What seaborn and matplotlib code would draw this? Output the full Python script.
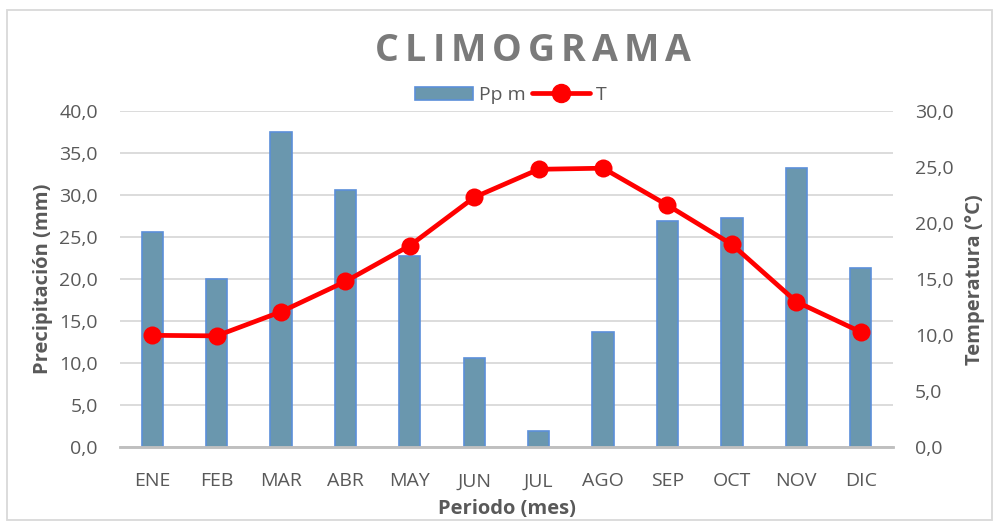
import seaborn as sns
import matplotlib.pyplot as plt
from matplotlib.patches import Rectangle
from matplotlib.lines import Line2D
from matplotlib.ticker import FuncFormatter, MultipleLocator
import pandas as pd

meses = ['ENE', 'FEB', 'MAR', 'ABR', 'MAY', 'JUN', 'JUL', 'AGO', 'SEP', 'OCT', 'NOV', 'DIC']
precip = [25.6, 20.0, 37.5, 30.6, 22.8, 10.6, 2.0, 13.7, 26.9, 27.3, 33.2, 21.3]
temp = [10.0, 9.95, 12.1, 14.8, 18.0, 22.3, 24.8, 24.9, 21.6, 18.1, 13.0, 10.3]

df = pd.DataFrame({'mes': meses, 'pp': precip, 't': temp})

sns.set_style('white')
plt.rcParams['font.family'] = ['Open Sans', 'DejaVu Sans']

gris = '#595959'
bar_fill = '#6A97AE'
bar_edge = '#5B8FD9'

fig = plt.figure(figsize=(9.96, 5.23), dpi=100)
ax = fig.add_axes([0.1205, 0.1444, 0.776, 0.6434])

sns.barplot(data=df, x='mes', y='pp', color=bar_fill, width=0.33,
            edgecolor=bar_edge, linewidth=1.2, saturation=1, ax=ax, zorder=2)

ax2 = ax.twinx()
sns.lineplot(x=range(len(meses)), y=df['t'], color='#FF0000', linewidth=3.4,
             marker='o', markersize=13, markeredgewidth=0, ax=ax2, zorder=3)

ax.set_xlim(-0.5, 11.5)
ax.set_ylim(0, 40)
ax2.set_ylim(0, 30)
ax.yaxis.set_major_locator(MultipleLocator(5))
ax2.yaxis.set_major_locator(MultipleLocator(5))
fmt = FuncFormatter(lambda v, p: f'{v:.1f}'.replace('.', ','))
ax.yaxis.set_major_formatter(fmt)
ax2.yaxis.set_major_formatter(fmt)

ax.grid(axis='y', color='#D9D9D9', linewidth=1.3, zorder=0)
ax.set_axisbelow(True)
for a in (ax, ax2):
    for s in ['top', 'left', 'right']:
        a.spines[s].set_visible(False)
    a.spines['bottom'].set_color('#BFBFBF')
    a.spines['bottom'].set_linewidth(1.8)
    a.tick_params(length=0, labelsize=14, labelcolor=gris)
ax.tick_params(axis='y', pad=16)
ax2.tick_params(axis='y', pad=16)
ax.tick_params(axis='x', pad=18)

ax.set_xlabel('Periodo (mes)', fontsize=14.5, fontweight='bold', color=gris, labelpad=6)
ax.set_ylabel('Precipitación (mm)', fontsize=14.5, fontweight='bold', color=gris, labelpad=4)
ax2.set_ylabel('Temperatura (°C)', fontsize=14.5, fontweight='bold', color=gris, labelpad=8)

# titulo con espaciado entre letras
titulo = 'CLIMOGRAMA'
renderer = fig.canvas.get_renderer()
letras = []
ancho = 0
for c in titulo:
    t = fig.text(0, 0.902, c, ha='left', va='center', fontsize=27,
                 fontweight='bold', color='#7A7A7A')
    w = t.get_window_extent(renderer).width
    letras.append((t, w))
    ancho += w
esp = 6
ancho += esp * (len(titulo) - 1)
x = 533 - ancho / 2
for t, w in letras:
    t.set_x(x / 996)
    x += w + esp

handles = [Rectangle((0, 0), 1, 1, facecolor=bar_fill, edgecolor=bar_edge, linewidth=1.2),
           Line2D([0], [0], color='#FF0000', linewidth=3.4, marker='o', markersize=13)]
leg = fig.legend(handles, ['Pp m', 'T'], loc='center', bbox_to_anchor=(0.513, 0.818),
                 ncol=2, frameon=False, fontsize=14, handlelength=3.0, columnspacing=0.3,
                 handletextpad=0.3)
for t in leg.get_texts():
    t.set_color(gris)

fig.patches.append(Rectangle((7 / 996, 3 / 523), 985 / 996, 510 / 523, transform=fig.transFigure,
                             fill=False, edgecolor='#D9D9D9', linewidth=1.3))

fig.savefig('out.png', dpi=100)
